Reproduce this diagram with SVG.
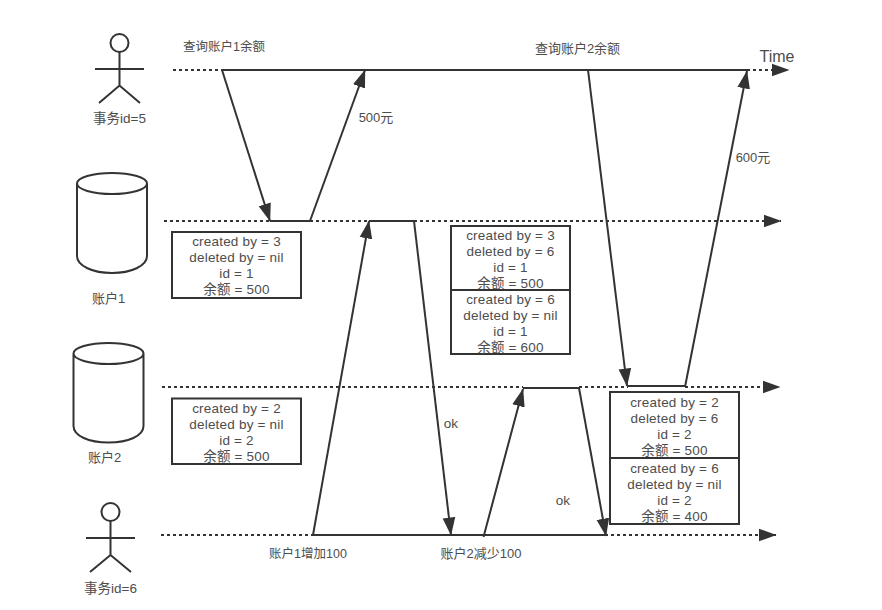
<svg xmlns="http://www.w3.org/2000/svg" width="882" height="610" viewBox="0 0 882 610">
<style>
text{font-family:"Liberation Sans","Noto Sans CJK SC",sans-serif;font-size:13px;fill:#4d4d4d;text-anchor:middle}
.r text{font-size:13.500px;letter-spacing:.2px}
.t{font-size:12.500px}
.s{fill:none;stroke:#333;stroke-width:2}
.d{fill:none;stroke:#333;stroke-width:2;stroke-dasharray:3 3}
.a{fill:none;stroke:#333;stroke-width:2;marker-end:url(#ah)}
.b{fill:#fff;stroke:#333;stroke-width:2}
</style>
<defs><marker id="ah" markerUnits="userSpaceOnUse" markerWidth="18" markerHeight="14" viewBox="0 0 17 12" refX="16.5" refY="6" orient="auto"><path d="M0 0L17 6L0 12Z" fill="#333"/></marker></defs>
<rect width="882" height="610" fill="#fff"/>
<g id="connectors">
<path class="d" d="M173 70H222"/><path class="s" d="M222 70H747"/><path class="a" style="stroke-dasharray:3 3" d="M747 70H789"/>
<path class="d" d="M164 221H270"/><path class="s" d="M270 221H310"/><path class="d" d="M310 221H369"/><path class="s" d="M369 221H414"/><path class="a" style="stroke-dasharray:3 3" d="M414 221H781"/>
<path class="d" d="M162 387H523"/><path class="s" d="M523 388H579"/><path class="d" d="M579 387H628"/><path class="s" d="M628 386H685"/><path class="a" style="stroke-dasharray:3 3" d="M685 387H780"/>
<path class="d" d="M161 535H313"/><path class="s" d="M313 535H605"/><path class="a" style="stroke-dasharray:3 3" d="M605 535H776"/>
<path class="a" d="M222 70L270 221"/>
<path class="a" d="M310 221L365 70"/>
<path class="a" d="M313 535L369 221"/>
<path class="a" d="M414 221L451 535"/>
<path class="a" d="M483.500 537L523 389"/>
<path class="a" d="M579 388L606 536"/>
<path class="a" d="M588 70L627 386"/>
<path class="a" d="M685 387L747 71"/>
</g>
<g id="actor-5"><g class="s"><circle cx="119.500" cy="43" r="9"/><path d="M95 69H144M119.500 52V85.500M99 103L119.500 85.500L140 103"/></g><text x="119.500" y="123" style="font-size:13.500px">事务id=5</text></g>
<g id="actor-6"><g class="s"><circle cx="110.500" cy="512" r="9"/><path d="M86 538H135M110.500 521V555M90 572L110.500 555L131 572"/></g><text x="110.500" y="593" style="font-size:13.500px">事务id=6</text></g>
<g id="account-1"><path class="s" d="M77 183.500A35 10.500 0 0 1 147 183.500A35 10.500 0 0 1 77 183.500V256C77 266 93 273 112 273S147 266 147 256V183.500"/><text x="108.500" y="303">账户1</text></g>
<g id="account-2"><path class="s" d="M73.500 353.500A35 10.500 0 0 1 143.500 353.500A35 10.500 0 0 1 73.500 353.500V426C73.500 436 89 442.500 108.500 442.500S143.500 436 143.500 426V353.500"/><text x="104.500" y="462">账户2</text></g>
<g id="labels">
<text class="t" x="224" y="51">查询账户1余额</text>
<text x="577.500" y="53">查询账户2余额</text>
<text x="777" y="62" style="font-size:16px">Time</text>
<text x="376" y="122">500元</text>
<text x="753" y="162">600元</text>
<text x="451" y="428" style="font-size:13.500px">ok</text>
<text x="563" y="505" style="font-size:13.500px">ok</text>
<text class="t" x="308" y="558">账户1增加100</text>
<text x="481" y="558">账户2减少100</text>
</g>
<g id="record-a1" class="r"><rect class="b" x="172" y="232" width="129" height="66"/><text x="236.500" y="246">created by = 3</text><text x="236.500" y="262">deleted by = nil</text><text x="236.500" y="278">id = 1</text><text x="236.500" y="294">余额 = 500</text></g>
<g id="record-a2" class="r"><rect class="b" x="172" y="398.500" width="129" height="65.500"/><text x="236.500" y="413">created by = 2</text><text x="236.500" y="429">deleted by = nil</text><text x="236.500" y="445">id = 2</text><text x="236.500" y="461">余额 = 500</text></g>
<g id="record-b1" class="r"><rect class="b" x="451" y="226" width="119" height="64"/><text x="510.500" y="240">created by = 3</text><text x="510.500" y="256">deleted by = 6</text><text x="510.500" y="272">id = 1</text><text x="510.500" y="288">余额 = 500</text></g>
<g id="record-b2" class="r"><rect class="b" x="451" y="290" width="119" height="64"/><text x="510.500" y="304">created by = 6</text><text x="510.500" y="320">deleted by = nil</text><text x="510.500" y="336">id = 1</text><text x="510.500" y="352">余额 = 600</text></g>
<g id="record-c1" class="r"><rect class="b" x="610" y="392" width="129" height="66"/><text x="674.500" y="407">created by = 2</text><text x="674.500" y="423">deleted by = 6</text><text x="674.500" y="439">id = 2</text><text x="674.500" y="455">余额 = 500</text></g>
<g id="record-c2" class="r"><rect class="b" x="610" y="458" width="129" height="66"/><text x="674.500" y="473">created by = 6</text><text x="674.500" y="489">deleted by = nil</text><text x="674.500" y="505">id = 2</text><text x="674.500" y="521">余额 = 400</text></g>
</svg>
